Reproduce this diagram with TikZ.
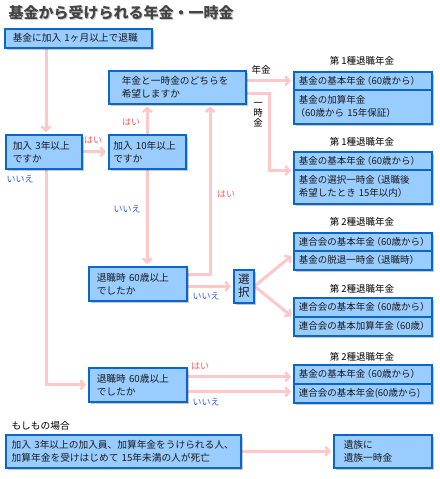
\documentclass[tikz,border=0pt]{standalone}
\usepackage{fontspec}
\setmainfont{Noto Sans CJK JP}
\usetikzlibrary{arrows.meta,calc,shadows}
\definecolor{boxfill}{HTML}{99CCFF}
\definecolor{boxline}{HTML}{0A66CC}
\definecolor{conncol}{HTML}{FFC8C8}
\definecolor{yescol}{HTML}{FF5A5A}
\definecolor{nocol}{HTML}{2F5FF0}
\definecolor{titlecol}{HTML}{444444}
\definecolor{txt}{HTML}{1A1A1A}
\newcommand\lpar{{\addfontfeature{RawFeature=+halt}\,（}}
\newcommand\rpar{{\addfontfeature{RawFeature=+halt}）}}
\pgfdeclarelayer{bg}
\pgfdeclarelayer{lines}
\pgfsetlayers{bg,lines,main}
\begin{document}
\begin{tikzpicture}[x=1pt,y=-1pt,
  every node/.style={font=\fontsize{9.7}{13}\selectfont, text=txt},
  box/.style={draw=boxline, fill=boxfill, line width=1.5pt, anchor=north west,
    align=left, inner ysep=0pt,
    drop shadow={shadow xshift=2pt, shadow yshift=-2pt, fill=black, opacity=0.22}},
  row/.style={box, text width=128pt, inner xsep=5pt, font=\fontsize{9.5}{13}\selectfont},
  conn/.style={draw=conncol, line width=3pt, shorten >=2pt,
    -{Straight Barb[length=4pt, width=9pt, line width=2.5pt]}},
  yes/.style={text=yescol, font=\fontsize{9}{10}\selectfont},
  no/.style={text=nocol, font=\fontsize{9}{10}\selectfont},
  grp/.style={font=\fontsize{9.5}{10}\selectfont, text=black}]
\begin{pgfonlayer}{bg}
\fill[white] (0,0) rectangle (439,479);
\end{pgfonlayer}
\useasboundingbox (0,0) rectangle (439,479);

% title
\node[anchor=west, text=black!20, font=\fontsize{15}{15}\bfseries\selectfont] (titleS) at (6,14) {基金から受けられる年金・一時金};
\node[anchor=west, text=titlecol, font=\fontsize{15}{15}\bfseries\selectfont] (title) at (5,13) {基金から受けられる年金・一時金};

% main boxes
\node[box, text width=131pt, minimum height=19pt, inner xsep=8pt] (A) at (4,28) {基金に加入 1ヶ月以上で退職};
\node[box, text width=111pt, minimum height=33pt, inner xsep=13pt] (B) at (108,70) {年金と一時金のどちらを\\希望しますか};
\node[box, text width=62pt, minimum height=34pt, inner xsep=7pt] (C) at (5,134) {加入 3年以上\\ですか};
\node[box, text width=68pt, minimum height=34pt, inner xsep=4.5pt] (D) at (108,134) {加入 10年以上\\ですか};
\node[box, text width=82pt, minimum height=34pt, inner xsep=8pt] (E) at (88,266) {退職時 60歳以上\\でしたか};
\node[box, text width=20pt, minimum height=33pt, inner xsep=0pt, align=center, font=\fontsize{11.5}{13}\selectfont] (F) at (233,269) {選\\択};
\node[box, text width=82pt, minimum height=34pt, inner xsep=8pt] (G) at (88,367) {退職時 60歳以上\\でしたか};
\node[box, text width=223pt, minimum height=33pt, inner xsep=6pt] (H) at (5,434) {加入 3年以上の加入員、加算年金をうけられる人、\\加算年金を受けはじめて 15年未満の人が死亡};
\node[box, text width=78pt, minimum height=33pt, inner xsep=10pt] (I) at (333,434) {遺族に\\遺族一時金};

% group 1
\node[grp] (L1) at (362,61) {第 1種退職年金};
\node[row, minimum height=18pt] (G1a) at (293,71) {基金の基本年金\lpar 60歳から\rpar};
\node[row, minimum height=34pt] (G1b) at (293,89) {基金の加算年金\\\lpar 60歳から 15年保証\rpar};
% group 2
\node[grp] (L2) at (362,142) {第 1種退職年金};
\node[row, minimum height=18pt] (G2a) at (293,151) {基金の基本年金\lpar 60歳から\rpar};
\node[row, minimum height=34pt] (G2b) at (293,169) {基金の選択一時金\lpar 退職後\\希望したとき 15年以内\rpar};
% group 3
\node[grp] (L3) at (362,222) {第 2種退職年金};
\node[row, minimum height=18pt] (G3a) at (293,232) {連合会の基本年金\lpar 60歳から\rpar};
\node[row, minimum height=19pt] (G3b) at (293,250) {基金の脱退一時金\lpar 退職時\rpar};
% group 4
\node[grp] (L4) at (362,289) {第 2種退職年金};
\node[row, minimum height=19pt] (G4a) at (293,297) {連合会の基本年金\lpar 60歳から\rpar};
\node[row, minimum height=19pt] (G4b) at (293,316) {連合会の基本加算年金\lpar 60歳\rpar};
% group 5
\node[grp] (L5) at (362,357) {第 2種退職年金};
\node[row, minimum height=19pt] (G5a) at (293,364) {基金の基本年金\lpar 60歳から\rpar};
\node[row, minimum height=19pt] (G5b) at (293,383) {連合会の基本年金(60歳から)};

% labels
\node[yes] (y1) at (93,140) {はい};
\node[no] (n1) at (20,179) {いいえ};
\node[yes] (y2) at (131,122) {はい};
\node[no] (n2) at (127,209) {いいえ};
\node[yes] (y3) at (226,194) {はい};
\node[no] (n3) at (206,296) {いいえ};
\node[grp] (nk) at (261,70) {年金};
\node[grp, align=center, font=\fontsize{9.5}{10}\selectfont] (ij) at (258,115) {一\\時\\金};
\node[yes] (y4) at (200,366) {はい};
\node[no] (n4) at (206,402) {いいえ};
\node[anchor=west, text=black] (moshi) at (8,426) {もしもの場合};

% connectors
\coordinate (xa) at (46,0);
\coordinate (xe) at (210,0);
\coordinate (xb) at (269,0);
\coordinate (g5u) at ($(G.east)+(0,-8)$);
\coordinate (g5d) at ($(G.east)+(0,7)$);
\coordinate (e2b) at ($(E.east)+(0,-9)$);
\coordinate (b2g) at ($(B.east)+(0,6.5)$);
\begin{pgfonlayer}{lines}
\draw[conn] (A.south -| xa) -- (C.north -| xa);
\draw[conn] (C.south -| xa) |- (G.west);
\draw[conn] (C.east) -- (D.west);
\draw[conn] (D.north) -- (B.south -| D.north);
\draw[conn] (D.south) -- (E.north -| D.south);
\draw[conn] (e2b) -| (B.south -| xe);
\draw[conn] (E.east |- F.west) -- (F.west);
\draw[conn] (F.east) -- ([yshift=-3pt]G3a.south west);
\draw[conn] (F.east) -- (G4a.south west);
\draw[conn] (B.east |- G1a.west) -- (G1a.west);
\draw[conn] (b2g) -| (G2a.south -| xb) -- (G2a.south west);
\draw[conn] (g5u) -- (g5u -| G5a.west);
\draw[conn] (g5d) -- (g5d -| G5b.west);
\draw[conn] (H.east) -- (I.west);
\end{pgfonlayer}
\end{tikzpicture}
\end{document}
